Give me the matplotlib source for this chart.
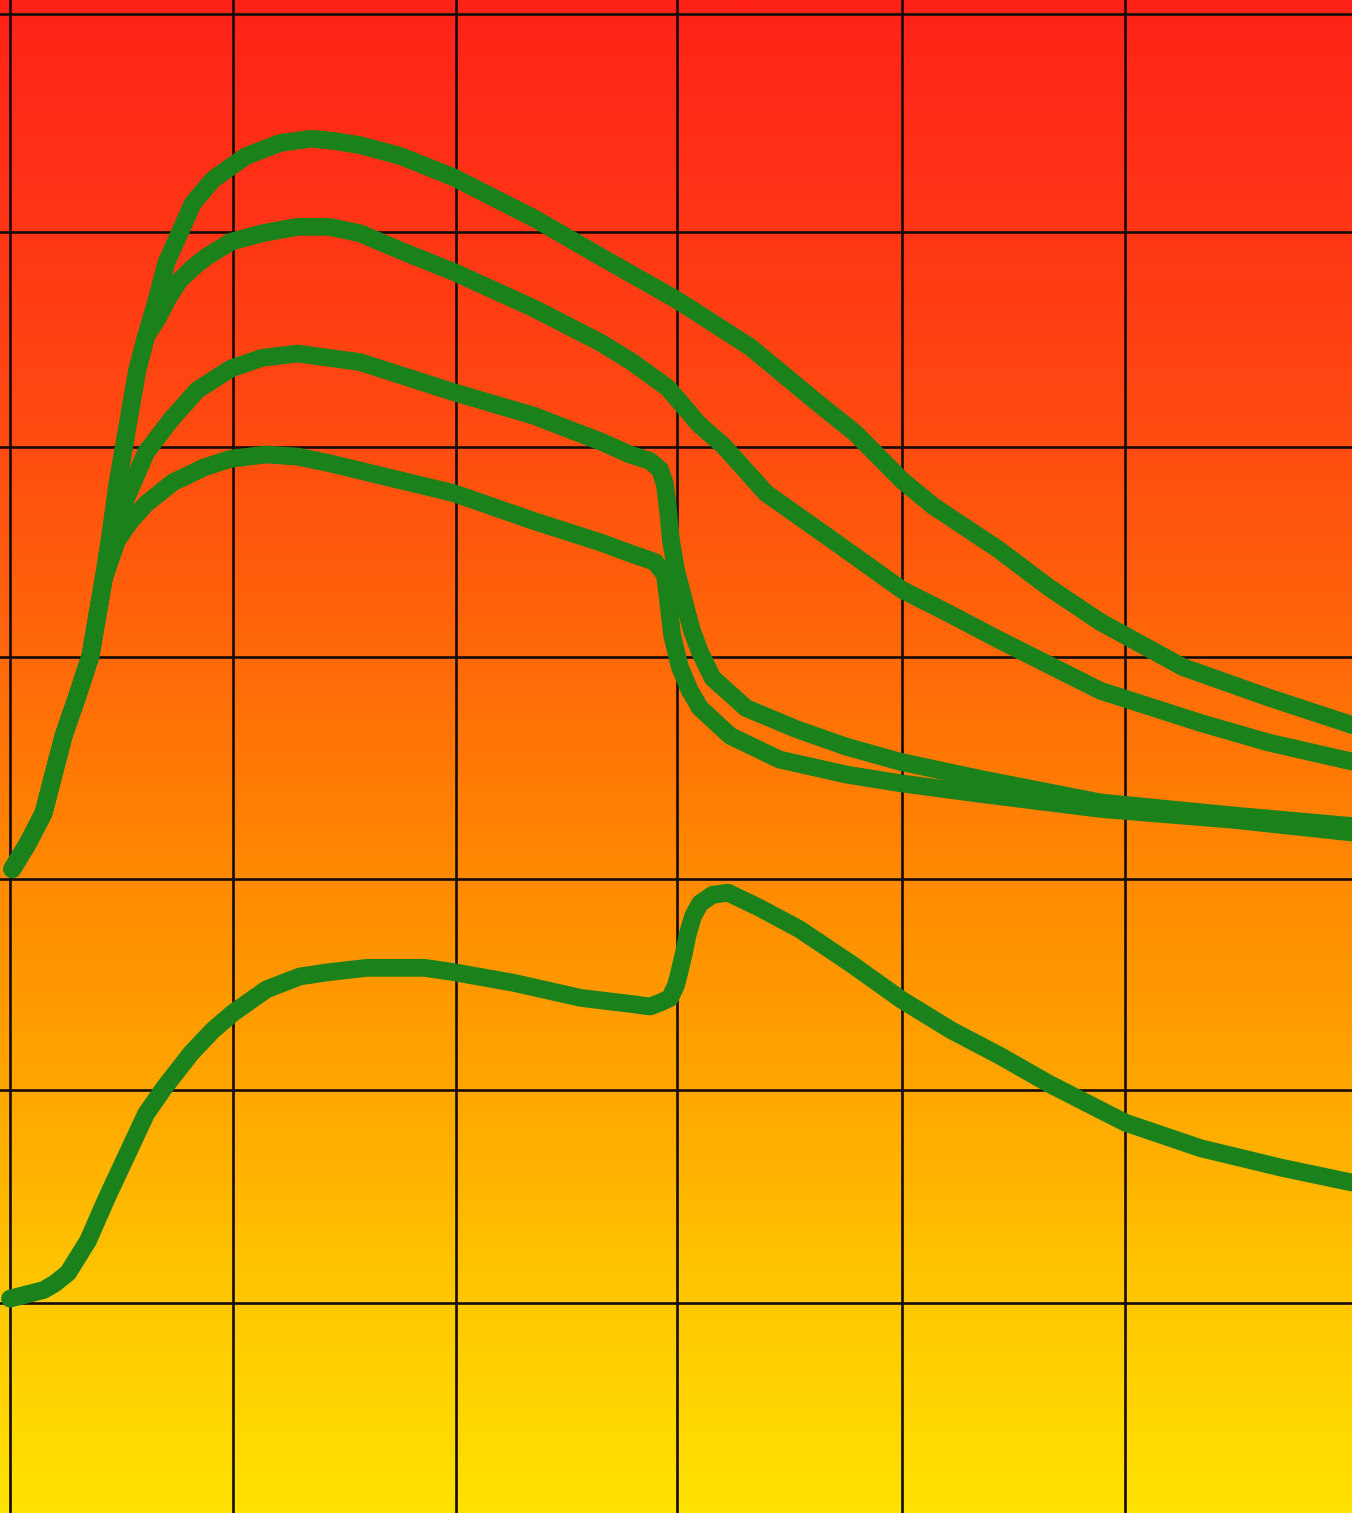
import numpy as np
import matplotlib
matplotlib.use("Agg")
import matplotlib.pyplot as plt
from matplotlib.colors import LinearSegmentedColormap

# ---- data (grid units: 10 per cell) ----
A_x = [0.1,0.8,1.5,2.4,3.0,3.6,4.2,4.5,4.8,5.1,5.4,5.7,6.1,6.6,7.0,7.6,8.2,9.1,9.9,10.6,
       12.1,13.5,14.5,15.7,17.5,19.9,23.5,26.5,29.9,33.2,36.1,37.9,40.0,41.4,44.3,46.6,48.9,52.6,56.4,60.2]
A_y = [30.2,31.4,32.8,36.4,38.2,40.1,43.7,45.7,48.0,49.8,51.6,53.4,55.0,56.8,58.4,59.8,61.2,62.3,62.9,63.4,
       64.0,64.2,64.1,63.9,63.4,62.4,60.5,58.7,56.7,54.5,52.0,50.5,48.3,47.1,45.1,43.3,41.7,39.6,38.2,36.9]

B_x = [0.1,0.8,1.5,2.4,3.0,3.6,4.2,4.5,4.8,5.1,5.4,5.7,6.1,6.6,7.1,7.6,8.2,8.8,9.9,11.3,
       12.9,14.3,15.7,17.5,19.9,23.5,26.5,27.9,29.5,30.9,32.0,33.9,36.9,40.0,42.1,44.3,48.9,53.4,56.4,60.2]
B_y = [30.2,31.4,32.8,36.4,38.2,40.1,43.7,45.7,48.0,49.8,51.6,53.4,55.0,55.8,56.8,57.6,58.2,58.7,59.4,59.8,
       60.1,60.1,59.8,59.0,58.0,56.3,54.7,53.8,52.6,50.9,49.9,47.7,45.5,43.2,42.1,40.9,38.5,37.0,36.1,35.2]

C_x = [0.1,0.8,1.5,2.4,3.0,3.6,4.2,4.5,5.1,5.6,6.1,7.2,8.4,9.9,11.3,12.9,14.3,15.7,17.5,19.9,
       23.5,26.5,27.8,28.7,29.15,29.37,29.51,29.64,29.87,30.22,30.58,30.94,31.5,33.0,35.3,37.5,39.9,43.5,48.9,54.8,60.2]
C_y = [30.2,31.4,32.8,36.4,38.2,40.1,43.7,45.7,47.2,48.4,49.6,51.1,52.5,53.5,54.0,54.2,54.0,53.8,53.2,52.4,
       51.3,50.1,49.5,49.2,48.8,48.1,46.9,45.5,44.1,42.7,41.3,40.3,39.1,37.7,36.7,35.9,35.2,34.4,33.3,32.7,32.2]

D_x = [0.1,0.8,1.5,2.4,3.0,3.6,4.2,4.8,5.4,6.1,7.3,8.7,9.9,11.5,12.9,14.3,17.5,19.9,23.5,26.5,
       27.8,28.92,29.37,29.51,29.69,30.04,30.49,30.94,32.3,34.5,37.5,39.9,43.5,48.9,54.8,60.2]
D_y = [30.2,31.4,32.8,36.4,38.2,40.1,43.7,45.5,46.4,47.2,48.2,48.9,49.3,49.5,49.4,49.1,48.3,47.7,46.4,45.4,
       44.9,44.5,43.9,42.7,41.1,39.6,38.5,37.7,36.4,35.3,34.6,34.2,33.7,33.0,32.5,31.9]

E_x = [0.0,1.5,2.0,2.6,3.5,4.3,5.2,6.1,6.9,8.1,9.1,10.0,11.5,13.0,14.3,16.0,18.6,19.9,22.6,25.6,28.0,
       28.7,29.2,29.6,29.87,30.04,30.22,30.40,30.63,30.94,31.5,32.2,33.6,35.4,37.7,40.0,42.2,44.4,46.6,50.0,53.4,57.0,60.2]
E_y = [10.2,10.6,10.9,11.4,12.9,14.8,16.8,18.8,20.0,21.6,22.7,23.5,24.6,25.2,25.4,25.6,25.6,25.4,24.9,24.2,23.9,
       23.8,24.0,24.2,24.8,25.5,26.3,27.2,28.0,28.6,29.0,29.1,28.4,27.4,25.8,24.1,22.7,21.5,20.2,18.4,17.2,16.3,15.6]

x_grid = [0, 10, 20, 29.9, 40, 50]
y_grid = [10.0, 19.9, 29.75, 40.07, 49.85, 59.85, 70.0]

XLIM = (-0.45, 60.18)
YLIM = (0.22, 70.66)

# ---- figure ----
fig = plt.figure(figsize=(13.52, 15.13), dpi=100)
ax = fig.add_axes([0, 0, 1, 1])
ax.set_xlim(*XLIM)
ax.set_ylim(*YLIM)

cmap = LinearSegmentedColormap.from_list(
    "bg",
    [(0.00, "#ffe200"),
     (0.14, "#ffc800"),
     (0.28, "#ffa600"),
     (0.42, "#ff8a02"),
     (0.57, "#ff680a"),
     (0.71, "#ff4c10"),
     (0.85, "#ff3616"),
     (1.00, "#ff2218")])
grad = np.linspace(0, 1, 512).reshape(-1, 1)
ax.imshow(grad, extent=[XLIM[0], XLIM[1], YLIM[0], YLIM[1]], origin="lower",
          aspect="auto", cmap=cmap, zorder=0, interpolation="bilinear")

for gx in x_grid:
    ax.axvline(gx, color="#140c0a", lw=1.9, zorder=1)
for gy in y_grid:
    ax.axhline(gy, color="#140c0a", lw=1.9, zorder=1)

green = "#1b821b"
for xs, ys in [(A_x, A_y), (B_x, B_y), (C_x, C_y), (D_x, D_y), (E_x, E_y)]:
    ax.plot(xs, ys, color=green, lw=12.8, solid_joinstyle="round",
            solid_capstyle="round", zorder=2)

ax.set_axis_off()
fig.savefig("out.png", dpi=100)
